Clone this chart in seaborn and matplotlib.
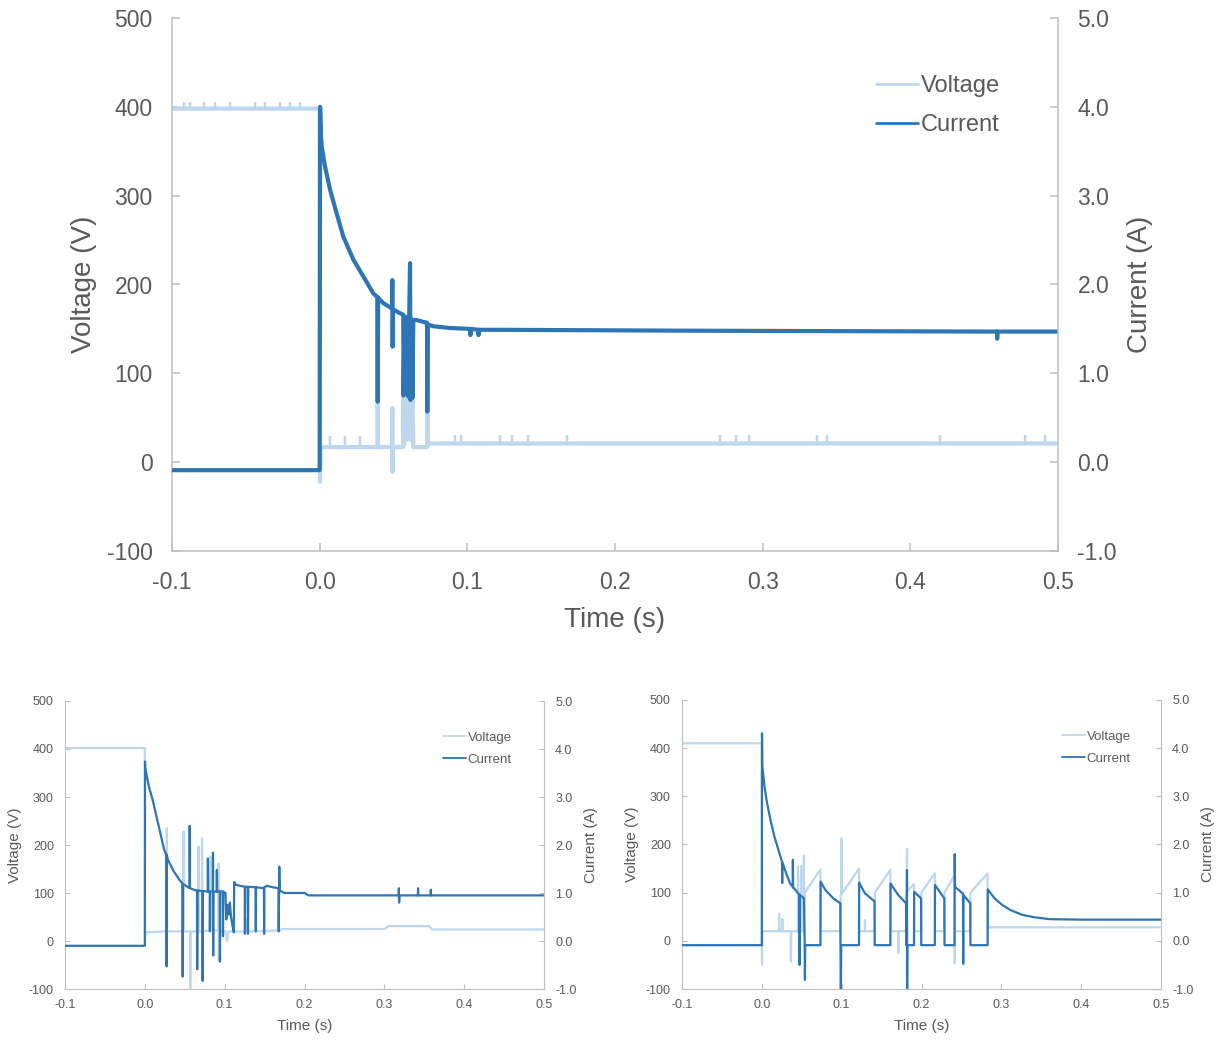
import numpy as np
import matplotlib
matplotlib.use("Agg")
import matplotlib.pyplot as plt
import seaborn as sns

# ---------------------------------------------------------------- data
# Top panel (time in s, voltage in V, current in A)
top_time_v = [-0.100, 0.0000, 0.0002, 0.0006, 0.0010, 0.0392, 0.0393, 0.0395,
              0.0491, 0.0492, 0.0493, 0.0495, 0.0565, 0.0567, 0.0572, 0.0580,
              0.0590, 0.0598, 0.0605, 0.0612, 0.0620, 0.0628, 0.0634, 0.0728,
              0.0729, 0.0732, 0.500]
top_voltage = [398, 398, -22, 12, 17, 17, 69, 17,
               17, 61, -11, 17, 17, 74, 20, 72,
               25, 74, 30, 72, 25, 70, 17, 17,
               57, 21, 21]

top_time_i = [-0.100, 0.0000, 0.0003, 0.0008, 0.0014, 0.0036, 0.0070, 0.0115,
              0.0160, 0.0228, 0.0296, 0.0363, 0.0390, 0.0393, 0.0396, 0.0431,
              0.0490, 0.0492, 0.0494, 0.0497, 0.0540, 0.0566, 0.0568, 0.0575,
              0.0585, 0.0592, 0.0600, 0.0606, 0.0612, 0.0615, 0.0622, 0.0628,
              0.0634, 0.0657, 0.0700, 0.0727, 0.0729, 0.0732, 0.0770, 0.0883,
              0.1020, 0.1021, 0.1023, 0.1075, 0.1076, 0.1078, 0.1220, 0.2500,
              0.4587, 0.4588, 0.4590, 0.500]
top_current = [-0.09, -0.09, 4.00, 3.70, 3.55, 3.33, 3.07, 2.80,
               2.54, 2.28, 2.09, 1.90, 1.86, 0.68, 1.85, 1.79,
               1.73, 2.05, 1.30, 1.72, 1.68, 1.66, 0.75, 1.64,
               0.80, 1.63, 0.74, 1.62, 2.24, 0.70, 1.61, 0.72,
               1.60, 1.60, 1.58, 1.57, 0.57, 1.55, 1.53, 1.51,
               1.50, 1.43, 1.50, 1.49, 1.43, 1.49, 1.49, 1.48,
               1.47, 1.39, 1.47, 1.47]

# short voltage noise excursions on the top trace
top_blip_t = [-0.092, -0.088, -0.078, -0.071, -0.061, -0.044, -0.037, -0.027,
              -0.020, -0.013, 0.007, 0.017, 0.027, 0.0916, 0.0957, 0.1220,
              0.1300, 0.1410, 0.1675, 0.2710, 0.2820, 0.2910, 0.3370, 0.3435,
              0.4200, 0.4776, 0.4910]
top_blip_lo = [398, 398, 398, 398, 398, 398, 398, 398,
               398, 398, 17, 17, 17, 21, 21, 21,
               21, 21, 21, 21, 21, 21, 21, 21,
               21, 21, 21]
top_blip_hi = [406, 406, 406, 406, 406, 406, 406, 406,
               406, 406, 30, 30, 30, 31, 31, 31,
               31, 31, 31, 31, 31, 31, 31, 31,
               31, 31, 31]

# Bottom-left panel
bl_time_v = [-0.100, 0.0000, 0.0003, 0.0010, 0.0274, 0.0276, 0.0279, 0.0483,
             0.0485, 0.0488, 0.0567, 0.0569, 0.0572, 0.0671, 0.0673, 0.0676,
             0.0714, 0.0716, 0.0719, 0.0818, 0.0820, 0.0823, 0.0922, 0.0924,
             0.0926, 0.0945, 0.0948, 0.1010, 0.1030, 0.1050, 0.1268, 0.1270,
             0.1273, 0.1700, 0.1720, 0.3000, 0.3050, 0.3560, 0.3600, 0.500]
bl_voltage = [402, 402, 10, 18, 20, 235, 20, 20,
              228, 20, 20, -98, 20, 20, 196, 20,
              20, 214, 20, 22, 176, 22, 22, 162,
              -40, 22, 20, 20, 0, 20, 20, 45,
              20, 22, 25, 25, 31, 31, 24, 24]

bl_time_i = [-0.100, 0.0000, 0.0002, 0.0006, 0.0050, 0.0098, 0.0146, 0.0194,
             0.0242, 0.0270, 0.0272, 0.0275, 0.0290, 0.0363, 0.0435, 0.0472,
             0.0474, 0.0477, 0.0531, 0.0560, 0.0562, 0.0565, 0.0628, 0.0654,
             0.0656, 0.0659, 0.0722, 0.0724, 0.0727, 0.0788, 0.0790, 0.0793,
             0.0813, 0.0815, 0.0818, 0.0852, 0.0854, 0.0856, 0.0859, 0.0900,
             0.0902, 0.0905, 0.0939, 0.0941, 0.0944, 0.0977, 0.0979, 0.0982,
             0.1010, 0.1020, 0.1035, 0.1050, 0.1065, 0.1080, 0.1100, 0.1115,
             0.1119, 0.1140, 0.1252, 0.1254, 0.1257, 0.1290, 0.1292, 0.1296,
             0.1388, 0.1390, 0.1393, 0.1492, 0.1494, 0.1497, 0.1530, 0.1600,
             0.1675, 0.1677, 0.1684, 0.1690, 0.1750, 0.2000, 0.2050, 0.3180,
             0.3182, 0.3185, 0.3190, 0.3420, 0.3422, 0.3426, 0.3580, 0.3582,
             0.3586, 0.500]
bl_current = [-0.10, -0.10, 3.74, 3.60, 3.22, 2.94, 2.59, 2.25,
              1.90, 1.80, -0.53, 1.79, 1.69, 1.45, 1.27, 1.20,
              -0.74, 1.19, 1.13, 1.11, 2.40, 1.10, 1.06, 1.05,
              -0.59, 1.05, 1.04, -0.83, 1.04, 1.03, 1.72, 1.03,
              1.03, 0.20, 1.03, 1.03, 1.84, -0.30, 1.03, 1.03,
              1.48, 1.03, 1.03, -0.43, 1.03, 1.03, 0.10, 1.03,
              1.00, 0.45, 0.75, 0.55, 0.80, 0.50, 0.30, 0.18,
              1.23, 1.17, 1.13, 0.15, 1.13, 1.13, 0.15, 1.13,
              1.12, 0.20, 1.12, 1.10, 0.15, 1.12, 1.15, 1.12,
              1.10, 0.20, 1.55, 1.05, 1.00, 1.00, 0.95, 0.95,
              1.10, 0.80, 0.95, 0.95, 1.10, 0.95, 0.95, 1.07,
              0.95, 0.95]

# Bottom-right panel
br_time_v = [-0.100, 0.0000, 0.0002, 0.0005, 0.0215, 0.0217, 0.0220, 0.0255,
             0.0257, 0.0260, 0.0363, 0.0365, 0.0368, 0.0451, 0.0453, 0.0456,
             0.0490, 0.0492, 0.0495, 0.0525, 0.0527, 0.0530, 0.0537, 0.0734,
             0.0736, 0.0985, 0.0987, 0.0995, 0.0996, 0.0998, 0.1217, 0.1219,
             0.1290, 0.1292, 0.1295, 0.1414, 0.1416, 0.1610, 0.1612, 0.1707,
             0.1709, 0.1712, 0.1808, 0.1810, 0.1817, 0.1818, 0.1820, 0.1906,
             0.1908, 0.1995, 0.1997, 0.2167, 0.2169, 0.2286, 0.2288, 0.2414,
             0.2416, 0.2419, 0.2520, 0.2522, 0.2525, 0.2611, 0.2613, 0.2828,
             0.2830, 0.500]
br_voltage = [410, 410, -50, 20, 20, 56, 20, 20,
              45, 20, 20, -43, 20, 20, 154, 20,
              20, 155, 20, 20, 177, 20, 100, 148,
              20, 20, 95, 97, 213, 97, 150, 20,
              20, 43, 20, 20, 100, 148, 20, 20,
              -26, 20, 20, 100, 102, 191, 103, 118,
              20, 20, 100, 140, 20, 20, 100, 136,
              -47, 20, 20, -50, 20, 20, 100, 140,
              28, 28]

br_time_i = [-0.100, 0.0000, 0.0002, 0.0006, 0.0034, 0.0059, 0.0108, 0.0158,
             0.0207, 0.0253, 0.0255, 0.0258, 0.0305, 0.0355, 0.0387, 0.0389,
             0.0392, 0.0404, 0.0453, 0.0470, 0.0472, 0.0475, 0.0502, 0.0527,
             0.0537, 0.0540, 0.0543, 0.0734, 0.0736, 0.0798, 0.0897, 0.0983,
             0.0985, 0.0990, 0.0995, 0.1217, 0.1219, 0.1290, 0.1389, 0.1412,
             0.1414, 0.1610, 0.1612, 0.1709, 0.1806, 0.1808, 0.1816, 0.1818,
             0.1820, 0.1823, 0.1906, 0.1908, 0.1995, 0.1997, 0.2167, 0.2169,
             0.2286, 0.2288, 0.2414, 0.2416, 0.2420, 0.2520, 0.2522, 0.2525,
             0.2611, 0.2613, 0.2828, 0.2830, 0.2916, 0.3015, 0.3113, 0.3261,
             0.3409, 0.3606, 0.4000, 0.500]
br_current = [-0.09, -0.09, 4.31, 3.62, 3.20, 2.92, 2.51, 2.16,
              1.89, 1.64, 1.20, 1.63, 1.40, 1.19, 1.12, 1.68,
              1.10, 1.09, 0.99, 0.96, -0.50, 0.95, 0.92, 0.88,
              -0.09, -0.81, -0.09, -0.09, 1.23, 1.05, 0.88, 0.78,
              -0.09, -1.00, -0.09, -0.09, 1.21, 0.99, 0.85, 0.82,
              -0.09, -0.09, 1.19, 0.95, 0.78, -0.09, -0.09, 1.47,
              -1.00, -0.09, -0.09, 1.02, 0.88, -0.09, -0.09, 1.16,
              0.88, -0.09, -0.09, 1.80, 1.12, 0.98, -0.47, 0.95,
              0.78, -0.09, -0.09, 1.07, 0.88, 0.74, 0.64, 0.54,
              0.49, 0.45, 0.44, 0.44]

time_ticks = [-0.1, 0.0, 0.1, 0.2, 0.3, 0.4, 0.5]
volt_ticks = [-100, 0, 100, 200, 300, 400, 500]
curr_ticks = [-1.0, 0.0, 1.0, 2.0, 3.0, 4.0, 5.0]

# ---------------------------------------------------------------- style
sns.set_theme(style="white")
plt.rcParams['font.family'] = ['Liberation Sans', 'DejaVu Sans']
plt.rcParams['axes.unicode_minus'] = False

VOLT_COLOR = "#BDD7EE"
CURR_COLOR = "#2E75B6"
TEXT = "#595959"
SPINE = "#BFBFBF"

fig = plt.figure(figsize=(12.25, 10.4), dpi=100)


def draw_panel(rect, t_v, volt, t_i, curr, s, legend_xy, blips=None):
    ax = fig.add_axes(rect)
    ax2 = ax.twinx()

    sns.lineplot(x=t_v, y=volt, ax=ax, color=VOLT_COLOR, lw=s['lw'],
                 estimator=None, sort=False, legend=False)
    if blips is not None:
        ax.vlines(blips[0], blips[1], blips[2], color=VOLT_COLOR, lw=s['lw'] * 0.6)
    sns.lineplot(x=t_i, y=curr, ax=ax2, color=CURR_COLOR, lw=s['lw'],
                 estimator=None, sort=False, legend=False)

    ax.set_xlim(-0.1, 0.5)
    ax.set_ylim(-100, 500)
    ax2.set_ylim(-1.0, 5.0)

    ax.set_xticks(time_ticks)
    ax.set_xticklabels([f"{v:.1f}" for v in time_ticks])
    ax.set_yticks(volt_ticks)
    ax.set_yticklabels([f"{v:d}" for v in volt_ticks])
    ax2.set_yticks(curr_ticks)
    ax2.set_yticklabels([f"{v:.1f}" for v in curr_ticks])

    for a in (ax, ax2):
        for sp in a.spines.values():
            sp.set_color(SPINE)
            sp.set_linewidth(s['spine'])
        a.spines['top'].set_visible(False)
    ax.spines['right'].set_visible(False)
    ax2.spines['left'].set_visible(False)
    ax2.spines['bottom'].set_visible(False)

    common = dict(direction='in', length=s['tick_len'], width=s['spine'],
                  color=SPINE, labelcolor=TEXT, labelsize=s['tick_fs'])
    ax.tick_params(axis='x', bottom=True, top=False, pad=s['xpad'], **common)
    ax.tick_params(axis='y', left=True, right=False, pad=s['ypad'], **common)
    ax2.tick_params(axis='y', right=True, left=False, pad=s['ypad'], **common)

    ax.set_xlabel("Time (s)", fontsize=s['label_fs'], color=TEXT)
    ax.set_ylabel("Voltage (V)", fontsize=s['label_fs'], color=TEXT)
    ax2.set_ylabel("Current (A)", fontsize=s['label_fs'], color=TEXT)
    ax.xaxis.set_label_coords(0.5, s['xlab'])
    ax.yaxis.set_label_coords(s['ylab_l'], 0.5)
    ax2.yaxis.set_label_coords(s['ylab_r'], 0.5)

    handles = [ax.get_lines()[0], ax2.get_lines()[0]]
    leg = ax2.legend(handles, ["Voltage", "Current"], loc='upper left',
                     bbox_to_anchor=legend_xy, bbox_transform=fig.transFigure,
                     frameon=False, borderpad=0, fontsize=s['leg_fs'],
                     labelcolor=TEXT, handlelength=1.8, handletextpad=0.1,
                     labelspacing=s['leg_sp'])
    for h in leg.get_lines():
        h.set_linewidth(s['leg_lw'])
    return ax, ax2


big = dict(lw=3.0, spine=1.1, tick_len=5.5, tick_fs=16.5, label_fs=20,
           xpad=14.5, ypad=14, leg_fs=17, leg_sp=0.72, leg_lw=2.0,
           xlab=-0.105, ylab_l=-0.085, ylab_r=1.078)
small = dict(lw=1.6, spine=0.8, tick_len=3.5, tick_fs=9, label_fs=11,
             xpad=7.5, ypad=8, leg_fs=9.5, leg_sp=0.75, leg_lw=1.3,
             xlab=-0.105, ylab_l=-0.09, ylab_r=1.084)

draw_panel([172 / 1225, 1 - 551 / 1040, 886 / 1225, 533 / 1040],
           top_time_v, top_voltage, top_time_i, top_current, big,
           (864 / 1225, 1 - 63 / 1040),
           blips=(top_blip_t, top_blip_lo, top_blip_hi))

draw_panel([65 / 1225, 1 - 989 / 1040, 479 / 1225, 288 / 1040],
           bl_time_v, bl_voltage, bl_time_i, bl_current, small,
           (436 / 1225, 1 - 725 / 1040))

draw_panel([682 / 1225, 1 - 989 / 1040, 479 / 1225, 289 / 1040],
           br_time_v, br_voltage, br_time_i, br_current, small,
           (1055 / 1225, 1 - 724 / 1040))

fig.savefig("out.png", dpi=100, facecolor="white")
